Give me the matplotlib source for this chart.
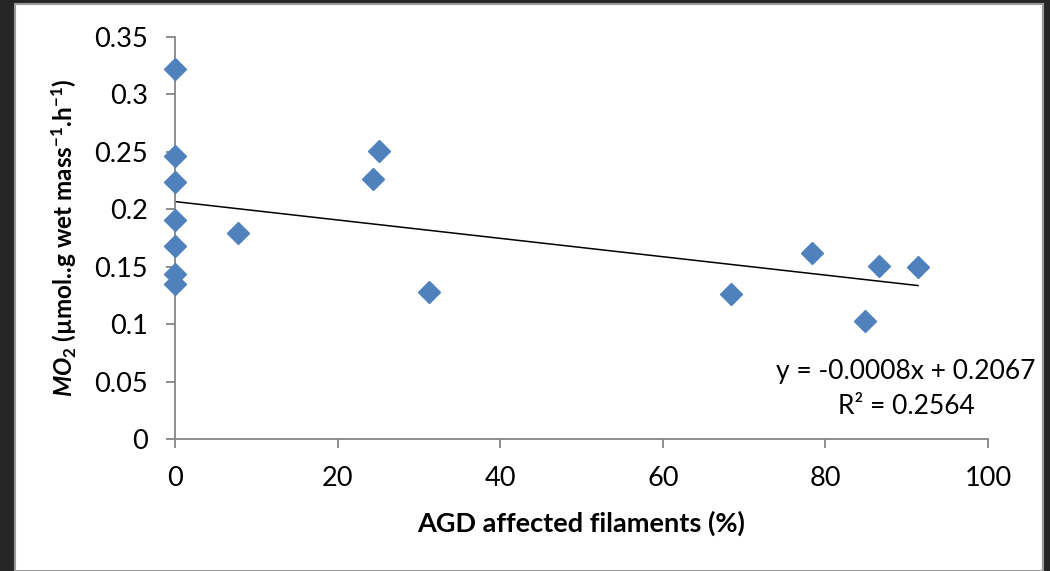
import numpy as np
import matplotlib.pyplot as plt
from matplotlib.patches import Rectangle

# data
agd = [0, 0, 0, 0, 0, 0, 0, 7.8, 24.4, 25.1, 31.2, 68.4, 78.4, 84.9, 86.6, 91.4]
mo2 = [0.322, 0.246, 0.224, 0.191, 0.168, 0.144, 0.135, 0.179, 0.226, 0.251,
       0.128, 0.126, 0.162, 0.103, 0.151, 0.150]
slope, intercept = -0.0008, 0.2067
r2 = 0.2564

plt.rcParams['font.family'] = ['Lato', 'DejaVu Sans']
plt.rcParams['mathtext.fontset'] = 'custom'
plt.rcParams['mathtext.rm'] = 'Lato:bold'
plt.rcParams['mathtext.it'] = 'Lato:bold:italic'
plt.rcParams['mathtext.bf'] = 'Lato:bold'

W, H = 1050, 571
fig = plt.figure(figsize=(W / 100, H / 100), dpi=100)
fig.patch.set_facecolor('#262626')
# white chart area inside the dark frame
fig.patches.append(Rectangle((15 / W, 0), (1043 - 15) / W, (H - 4) / H,
                             transform=fig.transFigure, facecolor='white',
                             edgecolor='#9a9a9a', linewidth=1.5, zorder=-10))

ax = fig.add_axes([175 / W, (H - 439) / H, (988 - 175) / W, (439 - 37) / H])
ax.set_facecolor('none')

ax.plot(agd, mo2, linestyle='none', marker='D', markersize=11,
        color='#4f81bd', clip_on=False, zorder=3)

xf = np.array([0, max(agd)])
ax.plot(xf, slope * xf + intercept, color='black', linewidth=1.1, zorder=2)

ax.set_xlim(0, 100)
ax.set_ylim(0, 0.35)
ax.set_xticks(np.arange(0, 101, 20))
ax.set_yticks(np.arange(0, 0.351, 0.05))
ax.set_yticklabels(['0', '0.05', '0.1', '0.15', '0.2', '0.25', '0.3', '0.35'])

for s in ['top', 'right']:
    ax.spines[s].set_visible(False)
for s in ['left', 'bottom']:
    ax.spines[s].set_color('#868686')
    ax.spines[s].set_linewidth(1.3)
ax.tick_params(direction='out', length=6.5, width=1.3, color='#868686',
               labelsize=19.5, labelcolor='black')
ax.tick_params(axis='y', pad=13)
ax.tick_params(axis='x', pad=13)

ax.set_xlabel('AGD affected filaments (%)', fontsize=19.5, fontweight='bold',
              labelpad=14)
ax.set_ylabel(r'$\it{MO}_\mathrm{2}$ (µmol..g wet mass$^\mathrm{-1}$.h$^\mathrm{-1}$)',
              fontsize=17.5, fontweight='bold', labelpad=11)

ax.text(0.899, 0.167, f'y = {slope}x + {intercept}', transform=ax.transAxes,
        fontsize=19, ha='center', va='center')
ax.text(0.9, 0.08, f'R² = {r2}', transform=ax.transAxes,
        fontsize=19, ha='center', va='center')

fig.savefig('out.png', dpi=100, facecolor=fig.get_facecolor())
